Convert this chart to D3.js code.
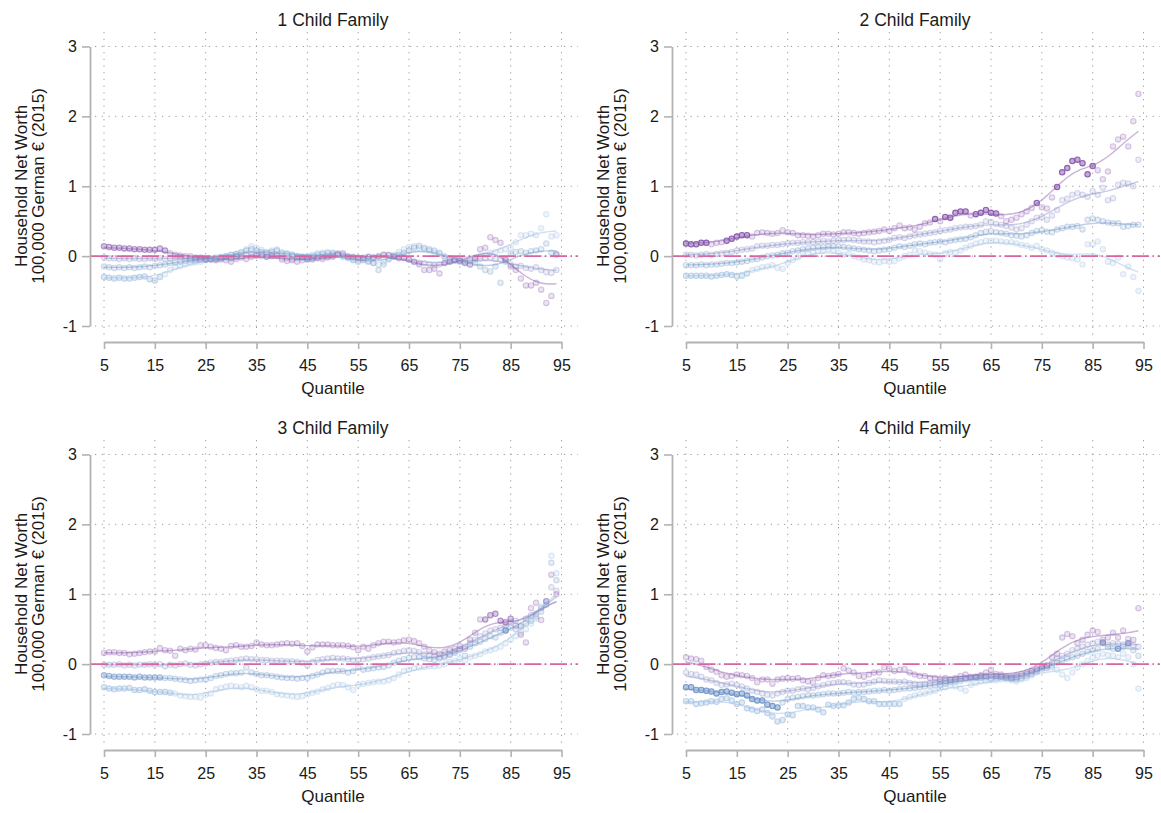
<!DOCTYPE html>
<html><head><meta charset="utf-8">
<script src="https://cdn.jsdelivr.net/npm/d3@7"></script>
<style>body{margin:0;background:#fff} text{font-family:"Liberation Sans",Arial,sans-serif;fill:#1a1a1a}</style>
</head><body><svg id="c" width="1161" height="813"></svg>
<script>
// ---------- data ----------
const quantiles = d3.range(5, 95); // 5 .. 94
const xTicks = [5,15,25,35,45,55,65,75,85,95];
const yTicks = [-1,0,1,2,3];
const panelTitles = ["1 Child Family","2 Child Family","3 Child Family","4 Child Family"];
const xTitle = "Quantile";
const yTitleLines = ["Household Net Worth","100,000 German \u20AC (2015)"];
const seriesColors = ["#8756ac","#8c90c8","#6f95c8","#9cbde0"];

// Panel 1
const p1s1 = [0.14,0.13,0.12,0.12,0.11,0.11,0.10,0.10,0.09,0.09, 0.09,0.11,0.08,0.04,0.02,0.01,0.00,0.00,-0.02,-0.02, -0.05,-0.05,-0.06,-0.05,-0.06,-0.08,-0.04,-0.02,-0.04,-0.01, 0.01,0.02,-0.01,0.00,0.01,-0.05,-0.07,-0.06,-0.08,-0.06, -0.05,-0.05,-0.03,-0.04,-0.02,-0.01,0.02,0.04,0.00,-0.01, -0.02,-0.03,-0.01,-0.02,0.00,0.02,0.02,-0.01,-0.03,-0.02, -0.05,-0.08,-0.12,-0.20,-0.20,-0.18,-0.25,-0.10,-0.08,-0.05, -0.07,-0.10,-0.12,-0.03,0.10,0.12,0.27,0.23,0.19,-0.05, -0.15,-0.20,-0.32,-0.42,-0.42,-0.38,-0.48,-0.67,-0.57,0.03];
const p1s2 = [-0.02,-0.03,-0.03,-0.04,-0.03,-0.04,-0.03,-0.04,-0.04,-0.03, -0.04,-0.03,-0.04,-0.03,-0.02,-0.02,-0.03,-0.03,-0.04,-0.05, -0.05,-0.04,-0.04,-0.03,-0.02,-0.03,-0.01,0.00,0.02,0.03, 0.02,0.00,-0.01,0.01,0.00,-0.02,-0.03,-0.04,-0.03,-0.02, -0.04,-0.03,-0.02,-0.01,0.00,0.01,0.03,0.00,-0.01,-0.02, -0.03,-0.02,-0.01,-0.02,-0.01,0.02,0.01,0.00,-0.02,-0.03, -0.05,-0.08,-0.09,-0.10,-0.12,-0.13,-0.12,-0.10,-0.08,-0.06, -0.06,-0.08,-0.07,-0.05,-0.04,-0.03,-0.02,-0.04,-0.05,-0.08, -0.12,-0.15,-0.14,-0.17,-0.18,-0.16,-0.20,-0.23,-0.24,-0.20];
const p1s3 = [-0.15,-0.16,-0.17,-0.16,-0.17,-0.16,-0.17,-0.16,-0.15,-0.16, -0.14,-0.13,-0.12,-0.10,-0.09,-0.08,-0.07,-0.06,-0.06,-0.05, -0.05,-0.03,-0.02,-0.01,0.00,0.02,0.03,0.05,0.08,0.10, 0.08,0.06,0.05,0.06,0.08,0.04,0.03,0.02,0.00,-0.01, -0.02,0.00,0.02,0.03,0.04,0.05,0.04,0.02,-0.02,-0.06, -0.08,-0.06,-0.08,-0.10,-0.20,-0.12,-0.05,0.00,0.02,0.05, 0.08,0.12,0.15,0.12,0.10,0.08,0.05,0.00,-0.03,-0.06, -0.08,-0.10,-0.12,-0.10,-0.15,-0.20,-0.22,-0.15,-0.38,-0.05, 0.03,0.06,0.07,0.05,0.07,0.08,0.10,0.18,0.05,0.02];
const p1s4 = [-0.30,-0.31,-0.32,-0.31,-0.32,-0.32,-0.31,-0.30,-0.29,-0.33, -0.35,-0.30,-0.26,-0.20,-0.16,-0.14,-0.12,-0.10,-0.09,-0.08, -0.06,-0.05,-0.04,-0.02,0.00,0.02,0.03,0.06,0.10,0.14, 0.12,0.09,0.06,0.08,0.10,0.06,0.04,0.02,0.00,-0.02, -0.01,0.02,0.04,0.05,0.06,0.04,0.02,-0.01,-0.03,-0.05, -0.06,-0.05,-0.07,-0.10,-0.12,-0.08,-0.03,0.02,0.06,0.10, 0.13,0.14,0.12,0.10,0.08,0.05,0.03,-0.02,-0.05,-0.07, -0.06,-0.04,-0.05,-0.02,0.00,0.02,0.05,0.06,0.08,0.10, 0.12,0.20,0.30,0.30,0.32,0.30,0.40,0.60,0.28,0.30];

// Panel 2
const p2s1 = [0.18,0.17,0.17,0.19,0.19,0.17,0.19,0.20,0.22,0.25, 0.28,0.30,0.30,0.28,0.33,0.34,0.33,0.32,0.33,0.37, 0.34,0.33,0.30,0.30,0.29,0.28,0.30,0.32,0.32,0.31, 0.32,0.34,0.34,0.33,0.32,0.33,0.34,0.35,0.36,0.38, 0.36,0.40,0.44,0.40,0.41,0.38,0.42,0.47,0.48,0.53, 0.50,0.56,0.55,0.62,0.64,0.64,0.58,0.60,0.62,0.66, 0.62,0.61,0.57,0.50,0.52,0.55,0.60,0.64,0.69,0.76, 0.70,0.68,0.84,0.99,1.20,1.26,1.36,1.38,1.33,1.17, 1.29,1.23,1.10,1.21,1.57,1.67,1.71,1.57,1.93,2.32];
const p2s2 = [0.02,0.02,0.01,0.02,0.03,0.02,0.03,0.04,0.05,0.06, 0.08,0.09,0.10,0.11,0.14,0.15,0.15,0.16,0.16,0.17, 0.18,0.19,0.19,0.20,0.20,0.20,0.21,0.22,0.21,0.22, 0.23,0.23,0.24,0.23,0.22,0.21,0.21,0.20,0.21,0.22, 0.23,0.26,0.27,0.26,0.28,0.30,0.31,0.32,0.33,0.34, 0.36,0.37,0.38,0.40,0.41,0.42,0.42,0.43,0.45,0.50, 0.49,0.46,0.45,0.43,0.41,0.38,0.40,0.45,0.50,0.55, 0.56,0.52,0.58,0.66,0.80,0.82,0.88,0.90,0.88,0.85, 0.93,0.88,0.98,0.80,0.83,1.02,1.05,1.04,1.00,1.38];
const p2s3 = [-0.13,-0.13,-0.13,-0.12,-0.13,-0.12,-0.12,-0.11,-0.10,-0.10, -0.09,-0.08,-0.07,-0.05,-0.04,-0.02,0.00,0.01,0.02,0.04, 0.05,0.07,0.08,0.10,0.11,0.12,0.13,0.13,0.14,0.14, 0.14,0.13,0.12,0.11,0.10,0.09,0.08,0.07,0.08,0.09, 0.10,0.12,0.14,0.13,0.15,0.17,0.18,0.17,0.19,0.20, 0.21,0.20,0.22,0.23,0.24,0.25,0.27,0.30,0.33,0.35, 0.36,0.34,0.33,0.32,0.30,0.29,0.28,0.30,0.33,0.36, 0.37,0.35,0.34,0.38,0.40,0.42,0.42,0.43,0.38,0.52, 0.54,0.52,0.50,0.48,0.47,0.47,0.42,0.43,0.45,0.45];
const p2s4 = [-0.28,-0.28,-0.28,-0.28,-0.28,-0.29,-0.28,-0.27,-0.26,-0.27, -0.29,-0.28,-0.25,-0.20,-0.18,-0.16,-0.15,-0.13,-0.17,-0.18, -0.10,-0.06,-0.02,0.05,0.04,0.06,0.07,0.08,0.10,0.08, 0.05,0.02,0.03,0.00,-0.02,-0.05,-0.06,-0.08,-0.09,-0.07, -0.08,-0.07,-0.03,0.00,0.02,0.08,0.07,0.05,0.03,0.02, -0.05,0.04,0.06,0.05,0.08,0.12,0.15,0.18,0.20,0.22, 0.22,0.22,0.21,0.20,0.20,0.18,0.16,0.15,0.12,0.15, 0.10,0.08,0.05,0.02,0.00,-0.02,-0.03,-0.05,-0.12,0.17, 0.17,0.21,0.10,-0.08,-0.10,-0.02,-0.26,-0.15,-0.30,-0.50];

// Panel 3
const p3s1 = [0.16,0.17,0.17,0.16,0.16,0.14,0.15,0.16,0.17,0.18, 0.18,0.23,0.20,0.19,0.12,0.22,0.20,0.22,0.21,0.27, 0.27,0.25,0.23,0.22,0.20,0.26,0.27,0.25,0.25,0.26, 0.31,0.28,0.27,0.27,0.28,0.29,0.30,0.29,0.30,0.26, 0.18,0.24,0.28,0.28,0.28,0.27,0.27,0.27,0.26,0.24, 0.20,0.25,0.22,0.27,0.30,0.32,0.32,0.31,0.32,0.34, 0.35,0.33,0.30,0.25,0.20,0.17,0.15,0.18,0.20,0.22, 0.26,0.22,0.35,0.45,0.64,0.64,0.70,0.72,0.62,0.60, 0.65,0.55,0.42,0.31,0.80,0.88,0.63,0.90,1.28,1.00];
const p3s2 = [-0.01,-0.01,-0.01,0.00,-0.02,-0.01,-0.02,-0.01,-0.01,0.00, -0.01,0.00,-0.03,-0.01,-0.02,0.00,0.01,-0.01,-0.02,0.00, 0.01,0.02,0.03,0.03,0.04,0.05,0.06,0.07,0.08,0.07, 0.07,0.06,0.06,0.05,0.05,0.05,0.04,0.04,0.03,0.02, -0.02,0.03,0.06,0.07,0.08,0.09,0.08,0.08,0.07,0.06, 0.06,0.07,0.08,0.10,0.11,0.12,0.13,0.16,0.17,0.19, 0.20,0.19,0.17,0.14,0.12,0.11,0.10,0.12,0.14,0.18, 0.22,0.25,0.30,0.35,0.40,0.44,0.48,0.50,0.52,0.55, 0.60,0.62,0.55,0.65,0.70,0.72,0.80,0.90,1.10,1.05];
const p3s3 = [-0.16,-0.17,-0.18,-0.18,-0.18,-0.18,-0.19,-0.18,-0.19,-0.19, -0.19,-0.19,-0.20,-0.20,-0.21,-0.22,-0.23,-0.24,-0.23,-0.22, -0.22,-0.20,-0.17,-0.16,-0.14,-0.13,-0.13,-0.12,-0.05,-0.12, -0.14,-0.16,-0.16,-0.17,-0.18,-0.19,-0.20,-0.20,-0.21,-0.20, -0.20,-0.17,-0.15,-0.12,-0.10,-0.10,-0.10,-0.10,-0.12,-0.10, -0.05,-0.08,-0.07,-0.06,-0.05,-0.04,-0.02,0.02,0.05,0.07, 0.09,0.10,0.10,0.08,0.07,0.06,0.08,0.10,0.13,0.16, 0.20,0.12,0.25,0.30,0.32,0.36,0.40,0.38,0.45,0.48, 0.52,0.50,0.54,0.58,0.62,0.68,0.75,0.85,1.45,1.20];
const p3s4 = [-0.33,-0.35,-0.36,-0.35,-0.35,-0.34,-0.37,-0.37,-0.36,-0.38, -0.40,-0.40,-0.40,-0.41,-0.42,-0.45,-0.46,-0.47,-0.47,-0.48, -0.44,-0.42,-0.36,-0.34,-0.32,-0.31,-0.32,-0.33,-0.31,-0.33, -0.36,-0.38,-0.38,-0.40,-0.43,-0.44,-0.45,-0.46,-0.47,-0.46, -0.43,-0.41,-0.39,-0.36,-0.34,-0.31,-0.29,-0.30,-0.33,-0.37, -0.30,-0.28,-0.27,-0.26,-0.25,-0.25,-0.23,-0.20,-0.15,-0.10, -0.08,-0.06,-0.05,-0.04,-0.03,-0.03,-0.02,0.00,0.03,0.05, 0.08,0.05,0.10,0.12,0.14,0.18,0.20,0.22,0.25,0.30, 0.35,0.40,0.45,0.50,0.58,0.65,0.82,0.90,1.55,1.30];

// Panel 4
const p4s1 = [0.10,0.08,0.07,0.05,-0.04,-0.08,-0.11,-0.16,-0.18,-0.17, -0.15,-0.16,-0.17,-0.20,-0.26,-0.22,-0.22,-0.28,-0.22,-0.21, -0.20,-0.21,-0.20,-0.23,-0.25,-0.26,-0.20,-0.16,-0.17,-0.16, -0.14,-0.06,-0.09,-0.12,-0.17,-0.18,-0.15,-0.12,-0.12,-0.05, -0.06,-0.10,-0.08,-0.07,-0.12,-0.15,-0.17,-0.17,-0.20,-0.20, -0.22,-0.20,-0.22,-0.20,-0.17,-0.15,-0.18,-0.18,-0.16,-0.12, -0.08,-0.14,-0.15,-0.17,-0.18,-0.16,-0.14,-0.12,-0.10,-0.07, -0.03,-0.02,0.10,0.15,0.38,0.43,0.40,0.30,0.35,0.42, 0.48,0.46,0.35,0.38,0.45,0.38,0.48,0.36,0.35,0.80];
const p4s2 = [-0.12,-0.14,-0.15,-0.18,-0.22,-0.23,-0.27,-0.30,-0.29,-0.28, -0.30,-0.32,-0.35,-0.38,-0.40,-0.42,-0.44,-0.45,-0.42,-0.40, -0.38,-0.38,-0.36,-0.35,-0.36,-0.34,-0.32,-0.30,-0.28,-0.27, -0.26,-0.26,-0.27,-0.29,-0.30,-0.29,-0.27,-0.25,-0.23,-0.24, -0.25,-0.25,-0.26,-0.25,-0.27,-0.28,-0.29,-0.28,-0.27,-0.26, -0.25,-0.24,-0.23,-0.22,-0.21,-0.20,-0.19,-0.18,-0.17,-0.17, -0.16,-0.17,-0.18,-0.19,-0.20,-0.19,-0.17,-0.14,-0.10,-0.08, -0.05,-0.02,0.02,0.08,0.12,0.15,0.20,0.22,0.25,0.28, 0.30,0.32,0.31,0.28,0.30,0.29,0.28,0.30,0.27,0.25];
const p4s3 = [-0.33,-0.33,-0.37,-0.37,-0.38,-0.39,-0.42,-0.40,-0.39,-0.41, -0.43,-0.42,-0.45,-0.50,-0.52,-0.52,-0.58,-0.60,-0.62,-0.55, -0.50,-0.48,-0.47,-0.46,-0.45,-0.45,-0.44,-0.43,-0.42,-0.42, -0.42,-0.41,-0.40,-0.41,-0.40,-0.40,-0.39,-0.38,-0.38,-0.37, -0.38,-0.37,-0.36,-0.35,-0.35,-0.34,-0.33,-0.32,-0.31,-0.30, -0.30,-0.28,-0.26,-0.25,-0.24,-0.22,-0.21,-0.20,-0.20,-0.19, -0.20,-0.19,-0.18,-0.20,-0.21,-0.22,-0.20,-0.17,-0.14,-0.10, -0.06,-0.05,-0.02,0.02,0.05,0.08,0.10,0.12,0.15,0.18, 0.20,0.22,0.30,0.24,0.22,0.22,0.25,0.27,0.20,0.12];
const p4s4 = [-0.53,-0.53,-0.57,-0.56,-0.55,-0.53,-0.54,-0.50,-0.49,-0.52, -0.57,-0.55,-0.63,-0.65,-0.67,-0.65,-0.70,-0.75,-0.82,-0.80, -0.72,-0.73,-0.60,-0.60,-0.62,-0.62,-0.65,-0.69,-0.58,-0.60, -0.59,-0.59,-0.55,-0.50,-0.48,-0.50,-0.53,-0.53,-0.57,-0.57, -0.57,-0.57,-0.57,-0.50,-0.47,-0.45,-0.43,-0.42,-0.40,-0.38, -0.35,-0.33,-0.30,-0.32,-0.35,-0.38,-0.30,-0.27,-0.25,-0.24, -0.23,-0.23,-0.22,-0.22,-0.23,-0.25,-0.22,-0.20,-0.16,-0.12, -0.08,-0.06,-0.05,-0.08,-0.15,-0.20,-0.12,-0.05,0.00,0.05, 0.10,0.12,0.15,0.13,0.12,0.10,0.15,0.10,0.00,-0.35];

// significance ranges per series: [from quantile, to quantile, level]  (level 1 = p<.10, 2 = p<.05)
const p1Sig = [[[5,17,1]], [[25,31,1],[44,50,1]], [], [[5,16,1]]];
const p2Sig = [[[5,9,2],[13,17,2],[54,54,2],[56,60,2],[62,66,2],[74,74,2],[78,85,2]], [], [], [[5,17,1]]];
const p3Sig = [[[80,85,1]], [], [[5,16,1],[84,84,2]], [[5,18,1]]];
const p4Sig = [[], [[55,70,1],[87,87,2],[92,92,2]], [[5,23,2],[90,90,2]], [[5,47,1]]];

const panelSeries = [[p1s1,p1s2,p1s3,p1s4],[p2s1,p2s2,p2s3,p2s4],[p3s1,p3s2,p3s3,p3s4],[p4s1,p4s2,p4s3,p4s4]];
const panelSig = [p1Sig,p2Sig,p3Sig,p4Sig];

// ---------- helpers ----------
// Gaussian kernel (local mean) smoother
function kernelSmooth(xs, ys, bw){
  return xs.map(x0=>{
    let sw=0, sy=0;
    xs.forEach((x,i)=>{ const u=(x-x0)/bw; const w=Math.exp(-0.5*u*u); sw+=w; sy+=w*ys[i]; });
    return sy/sw;
  });
}
function levelOf(sig, q){
  for(const r of sig){ if(q>=r[0] && q<=r[1]) return r[2]; }
  return 0;
}
const alphaFor = [0.3, 0.58, 0.92];

// ---------- layout ----------
const svg = d3.select("#c");
const colX = [0, 582], rowY = [0, 408];

panelSeries.forEach((series, pi)=>{
  const ox = colX[pi%2], oy = rowY[Math.floor(pi/2)];
  const g = svg.append("g").attr("transform", `translate(${ox},${oy})`);
  const x = d3.scaleLinear().domain([5,95]).range([104, 561.5]);
  const y = d3.scaleLinear().domain([-1,3]).range([326, 46.5]);

  // grid
  g.append("g").selectAll("line").data(xTicks).join("line")
    .attr("x1", d=>x(d)).attr("x2", d=>x(d)).attr("y1", 32).attr("y2", 337)
    .attr("stroke", "#9a9a9a").attr("stroke-width", 1).attr("stroke-dasharray", "1.2,5.5");
  g.append("g").selectAll("line").data(yTicks).join("line")
    .attr("x1", 95).attr("x2", 578).attr("y1", d=>y(d)).attr("y2", d=>y(d))
    .attr("stroke", "#9a9a9a").attr("stroke-width", 1).attr("stroke-dasharray", "1.2,5.5");

  // axes
  const ya = g.append("g").attr("transform","translate(90,0)")
    .call(d3.axisLeft(y).tickValues(yTicks).tickSize(8).tickSizeOuter(0).tickPadding(5).tickFormat(d3.format("d")));
  const xa = g.append("g").attr("transform","translate(0,342)")
    .call(d3.axisBottom(x).tickValues(xTicks).tickSize(7).tickSizeOuter(0).tickPadding(11));
  [ya, xa].forEach(a=>{
    a.select(".domain").attr("stroke","#b3b3b3").attr("stroke-width",1.8);
    a.selectAll(".tick line").attr("stroke","#b3b3b3").attr("stroke-width",1.6);
    a.selectAll(".tick text").attr("font-size",16).attr("fill","#1a1a1a")
      .attr("font-family",'"Liberation Sans",Arial,sans-serif');
  });
  ya.selectAll(".tick text").text(d=> d<0 ? "-"+Math.abs(d) : d);

  // titles
  g.append("text").attr("x", 333).attr("y", 26).attr("text-anchor","middle")
    .attr("font-size", 17.5).text(panelTitles[pi]);
  g.append("text").attr("x", 333).attr("y", 394).attr("text-anchor","middle")
    .attr("font-size", 17).text(xTitle);
  yTitleLines.forEach((t,li)=>{
    g.append("text").attr("transform", `translate(${27+li*17},186) rotate(-90)`)
      .attr("text-anchor","middle").attr("font-size",17).text(t);
  });

  // dots
  const dots = [];
  series.forEach((vals, si)=>{
    vals.forEach((v,i)=>{
      const q = quantiles[i];
      dots.push({q, v, si, lvl: levelOf(panelSig[pi][si], q)});
    });
  });
  dots.sort((a,b)=> a.lvl-b.lvl || b.si-a.si);
  g.append("g").selectAll("circle").data(dots).join("circle")
    .attr("cx", d=>x(d.q)).attr("cy", d=>y(d.v)).attr("r", 2.7)
    .attr("fill", d=>seriesColors[d.si]).attr("fill-opacity", d=>alphaFor[d.lvl]*0.55)
    .attr("stroke", d=>seriesColors[d.si]).attr("stroke-opacity", d=>alphaFor[d.lvl])
    .attr("stroke-width", 1.1);

  // smoothed fits
  const line = d3.line().x(d=>x(d[0])).y(d=>y(d[1])).curve(d3.curveBasis);
  series.forEach((vals, si)=>{
    const fit = kernelSmooth(quantiles, vals, 3.5);
    g.append("path").datum(quantiles.map((q,i)=>[q, fit[i]]))
      .attr("d", line).attr("fill","none")
      .attr("stroke", seriesColors[si]).attr("stroke-opacity", 0.45).attr("stroke-width", 1.4);
  });

  // zero reference line
  g.append("line").attr("x1", 91).attr("x2", 578).attr("y1", y(0)).attr("y2", y(0))
    .attr("stroke", "#d8659f").attr("stroke-width", 1.8).attr("stroke-dasharray", "17,3.5,1.5,3.5");
});
</script></body></html>
